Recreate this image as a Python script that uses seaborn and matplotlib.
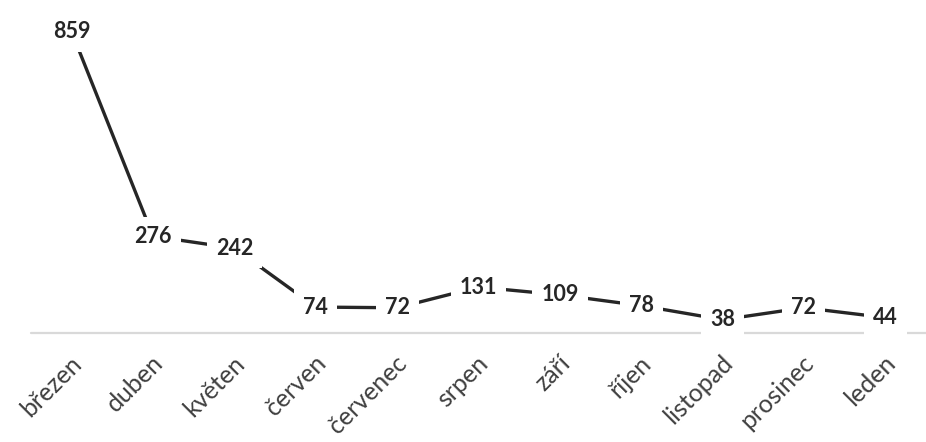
import matplotlib
matplotlib.use("Agg")
import matplotlib.pyplot as plt
import matplotlib.transforms as mtransforms
import seaborn as sns
import pandas as pd

months = ["březen", "duben", "květen", "červen", "červenec", "srpen",
          "září", "říjen", "listopad", "prosinec", "leden"]
values = [859, 276, 242, 74, 72, 131, 109, 78, 38, 72, 44]

df = pd.DataFrame({"month": months, "value": values})

sns.set_style("white")
plt.rcParams["font.family"] = ["Lato", "DejaVu Sans"]

fig = plt.figure(figsize=(9.26, 4.42), dpi=100)
W, H = 926, 442
left, right = 31, 926
bottom_px, top_px = 333, 17.6
ax = fig.add_axes([left / W, (H - bottom_px) / H, (right - left) / W, (bottom_px - top_px) / H])

sns.lineplot(data=df, x="month", y="value", ax=ax, color="#262626",
             linewidth=2.4, sort=False, zorder=2)
ax.set_xlim(-0.5, len(months) - 0.5)
ax.set_ylim(0, 900)

ax.axhline(0, color="#d9d9d9", linewidth=1.6, zorder=1, clip_on=False)

for i, v in enumerate(values):
    ax.text(i, v, str(v), ha="center", va="center", fontsize=15.5,
            fontweight="bold", color="#262626", zorder=5,
            bbox=dict(boxstyle="square,pad=0.42", facecolor="white", edgecolor="none"))

for s in ax.spines.values():
    s.set_visible(False)
ax.set_yticks([])
ax.set_xlabel("")
ax.set_ylabel("")
ax.tick_params(axis="x", length=0, pad=19, labelsize=18, labelcolor="#404040")
offset = mtransforms.ScaledTranslation(6 / 100, 0, fig.dpi_scale_trans)
for lab in ax.get_xticklabels():
    lab.set_rotation(45)
    lab.set_ha("right")
    lab.set_va("center")
    lab.set_rotation_mode("anchor")
    lab.set_transform(lab.get_transform() + offset)

fig.savefig("out.png", dpi=100)
